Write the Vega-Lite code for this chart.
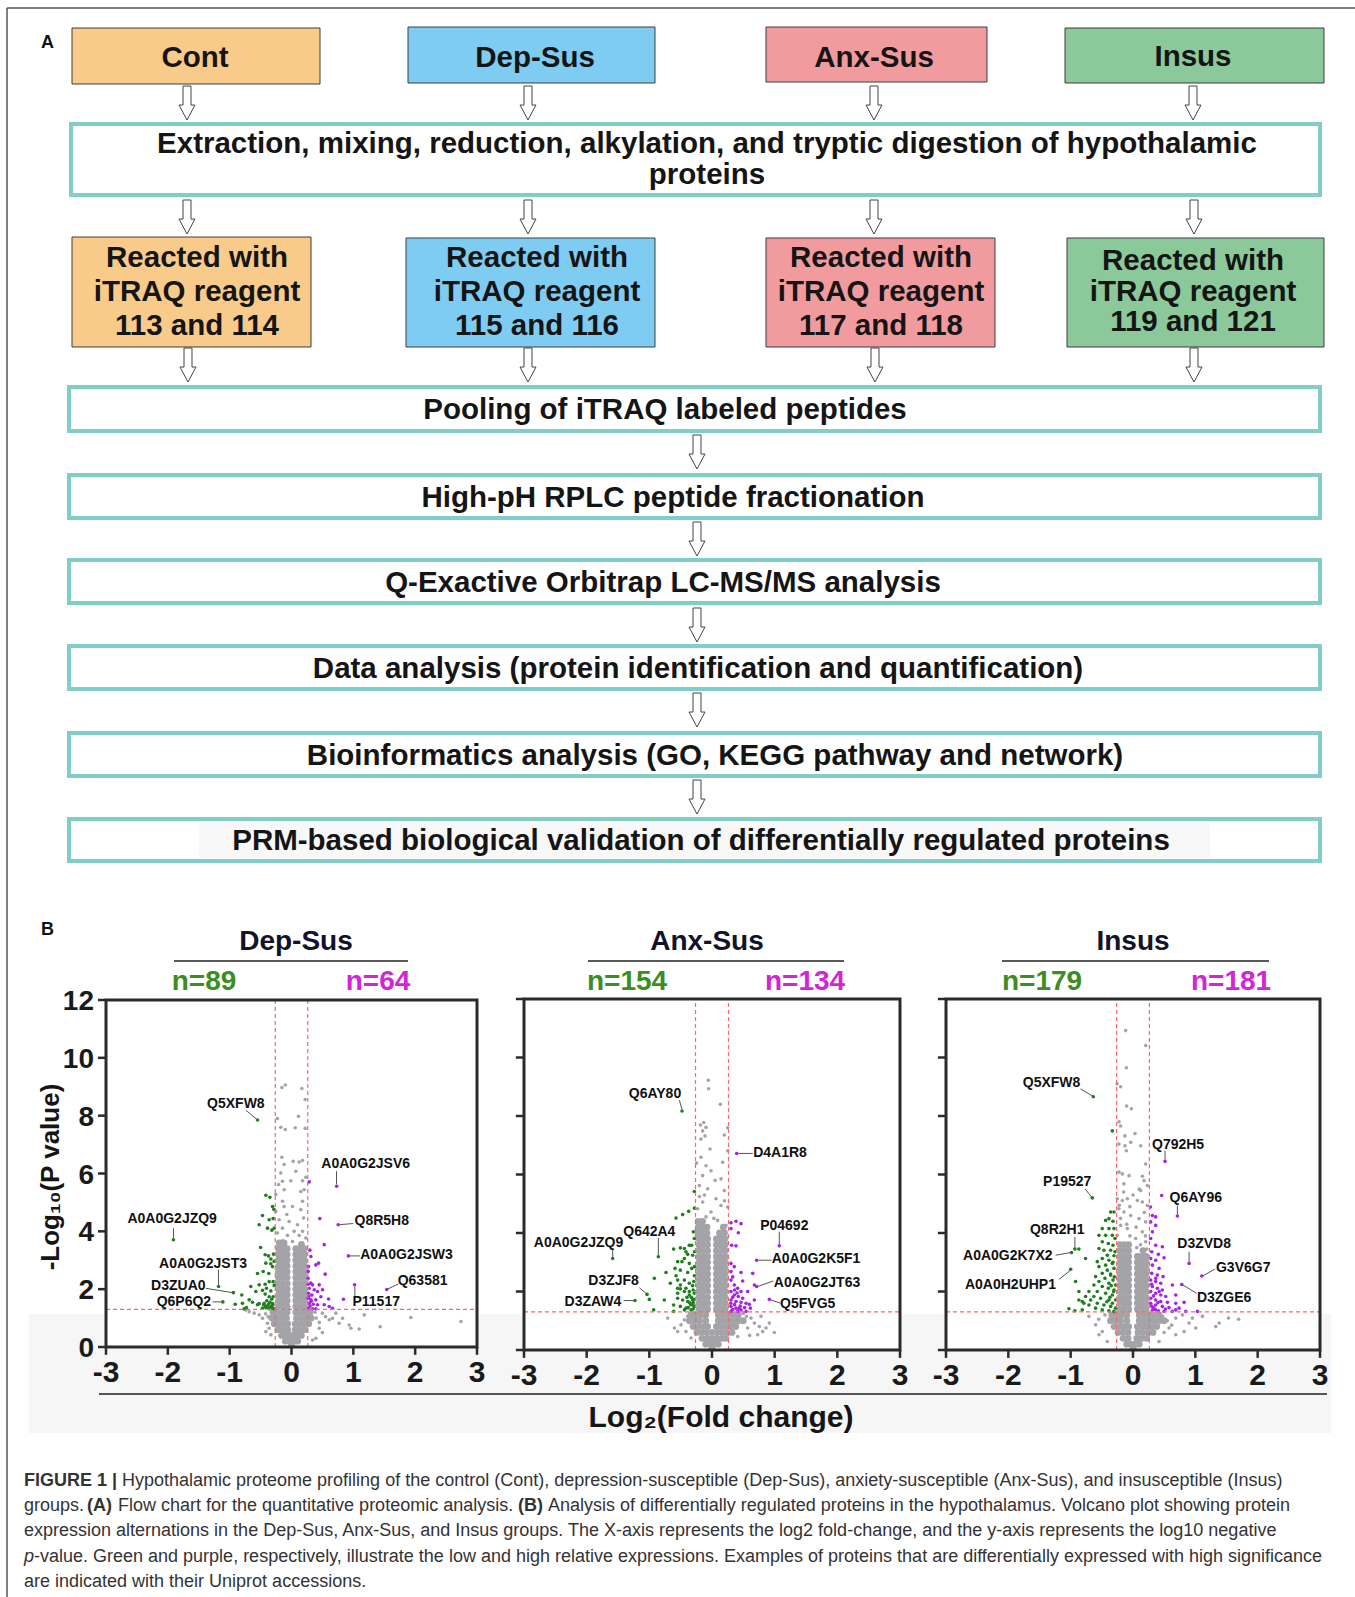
{
"$schema": "https://vega.github.io/schema/vega-lite/v6.json",
"width": 1355, "height": 1597, "padding": 0, "autosize": "none",
"background": "#ffffff",
"config": {"view": {"stroke": null}, "font": "Liberation Sans"},
"datasets": {
"band": [{"x":29,"x2":1331,"y":1314,"y2":1433}],
"frame": [{"x":7,"y":8,"x2":1355,"y2":8},{"x":7,"y":8,"x2":7,"y2":1597}],
"gbox": [{"x":72,"x2":320,"y":28,"y2":84,"g":"Cont"},{"x":408,"x2":655,"y":27,"y2":83,"g":"Dep-Sus"},{"x":766,"x2":987,"y":27,"y2":82,"g":"Anx-Sus"},{"x":1065,"x2":1324,"y":28,"y2":83,"g":"Insus"},{"x":72,"x2":311,"y":237,"y2":347,"g":"Cont"},{"x":406,"x2":655,"y":238,"y2":347,"g":"Dep-Sus"},{"x":766,"x2":995,"y":238,"y2":347,"g":"Anx-Sus"},{"x":1067,"x2":1324,"y":238,"y2":347,"g":"Insus"}],
"tbox": [{"x":71,"x2":1320,"y":124,"y2":195},{"x":69,"x2":1320,"y":387,"y2":431},{"x":69,"x2":1320,"y":475,"y2":518},{"x":69,"x2":1320,"y":560,"y2":603},{"x":69,"x2":1320,"y":646,"y2":689},{"x":69,"x2":1320,"y":733,"y2":776},{"x":69,"x2":1320,"y":819,"y2":861}],
"patch": [{"x":199,"x2":1210,"y":823,"y2":858}],
"arrows": [{"x":187,"y":103},{"x":528,"y":103},{"x":874,"y":103},{"x":1193,"y":103},{"x":187,"y":217},{"x":528,"y":217},{"x":874,"y":217},{"x":1194,"y":217},{"x":188,"y":365},{"x":528,"y":365},{"x":875,"y":365},{"x":1194,"y":365},{"x":697,"y":452},{"x":697,"y":539},{"x":697,"y":625},{"x":697,"y":710},{"x":697,"y":797}],
"ftext": [{"x":195,"y":67,"t":"Cont"},{"x":535,"y":67,"t":"Dep-Sus"},{"x":874,"y":67,"t":"Anx-Sus"},{"x":1193,"y":66,"t":"Insus"},
{"x":707,"y":153,"t":"Extraction, mixing, reduction, alkylation, and tryptic digestion of hypothalamic"},{"x":707,"y":184,"t":"proteins"},
{"x":197,"y":267,"t":"Reacted with"},{"x":197,"y":301,"t":"iTRAQ reagent"},{"x":197,"y":335,"t":"113 and 114"},
{"x":537,"y":267,"t":"Reacted with"},{"x":537,"y":301,"t":"iTRAQ reagent"},{"x":537,"y":335,"t":"115 and 116"},
{"x":881,"y":267,"t":"Reacted with"},{"x":881,"y":301,"t":"iTRAQ reagent"},{"x":881,"y":335,"t":"117 and 118"},
{"x":1193,"y":270,"t":"Reacted with"},{"x":1193,"y":301,"t":"iTRAQ reagent"},{"x":1193,"y":331,"t":"119 and 121"},
{"x":665,"y":419,"t":"Pooling of iTRAQ labeled peptides"},{"x":673,"y":507,"t":"High-pH RPLC peptide fractionation"},{"x":663,"y":592,"t":"Q-Exactive Orbitrap LC-MS/MS analysis"},{"x":698,"y":678,"t":"Data analysis (protein identification and quantification)"},{"x":715,"y":765,"t":"Bioinformatics analysis (GO, KEGG pathway and network)"},{"x":701,"y":850,"t":"PRM-based biological validation of differentially regulated proteins"}],
"letters": [{"x":41,"y":48,"t":"A"},{"x":41,"y":935,"t":"B"}],
"ptitle": [{"x":296,"y":950,"t":"Dep-Sus"},{"x":707,"y":950,"t":"Anx-Sus"},{"x":1133,"y":950,"t":"Insus"}],
"uline": [{"x":174,"x2":408,"y":961,"y2":961},{"x":588,"x2":844,"y":961,"y2":961},{"x":1002,"x2":1269,"y":961,"y2":961},{"x":99,"x2":1327,"y":1394,"y2":1394}],
"ndown": [{"x":204,"y":990,"t":"n=89"},{"x":627,"y":990,"t":"n=154"},{"x":1042,"y":990,"t":"n=179"}],
"nup": [{"x":378,"y":990,"t":"n=64"},{"x":805,"y":990,"t":"n=134"},{"x":1231,"y":990,"t":"n=181"}],
"ytitle": [{"x":51,"y":1177,"t":"-Log₁₀(P value)"}],
"xtitle": [{"x":721,"y":1427,"t":"Log₂(Fold change)"}],
"capR": [{"x":122,"y":1486,"t":"Hypothalamic proteome profiling of the control (Cont), depression-susceptible (Dep-Sus), anxiety-susceptible (Anx-Sus), and insusceptible (Insus)"},{"x":24,"y":1511,"t":"groups."},{"x":118,"y":1511,"t":"Flow chart for the quantitative proteomic analysis."},{"x":548,"y":1511,"t":"Analysis of differentially regulated proteins in the hypothalamus. Volcano plot showing protein"},{"x":24,"y":1536,"t":"expression alternations in the Dep-Sus, Anx-Sus, and Insus groups. The X-axis represents the log2 fold-change, and the y-axis represents the log10 negative"},{"x":34,"y":1562,"t":"-value. Green and purple, respectively, illustrate the low and high relative expressions. Examples of proteins that are differentially expressed with high significance"},{"x":24,"y":1587,"t":"are indicated with their Uniprot accessions."}],
"capB": [{"x":24,"y":1486,"t":"FIGURE 1 |"},{"x":87,"y":1511,"t":"(A)"},{"x":518,"y":1511,"t":"(B)"}],
"capI": [{"x":24,"y":1562,"t":"p"}],
"tx": [{"t":-3,"s":"-3"},{"t":-2,"s":"-2"},{"t":-1,"s":"-1"},{"t":0,"s":"0"},{"t":1,"s":"1"},{"t":2,"s":"2"},{"t":3,"s":"3"}],
"ty": [{"t":0,"s":"0"},{"t":2,"s":"2"},{"t":4,"s":"4"},{"t":6,"s":"6"},{"t":8,"s":"8"},{"t":10,"s":"10"},{"t":12,"s":"12"}],
"p1": [
{"fc":-0.2,"lp":3.6,"g":"k"},{"fc":-0.12,"lp":3.6,"g":"k"},{"fc":0.16,"lp":3.55,"g":"k"},
{"fc":-0.21,"lp":3.4,"g":"k"},{"fc":-0.14,"lp":3.4,"g":"k"},{"fc":-0.07,"lp":3.4,"g":"k"},{"fc":0.07,"lp":3.4,"g":"k"},{"fc":0.14,"lp":3.4,"g":"k"},{"fc":0.21,"lp":3.4,"g":"k"},
{"fc":-0.21,"lp":3.2,"g":"k"},{"fc":-0.14,"lp":3.2,"g":"k"},{"fc":-0.07,"lp":3.2,"g":"k"},{"fc":0.07,"lp":3.2,"g":"k"},{"fc":0.14,"lp":3.2,"g":"k"},{"fc":0.21,"lp":3.2,"g":"k"},
{"fc":-0.21,"lp":3.0,"g":"k"},{"fc":-0.14,"lp":3.0,"g":"k"},{"fc":-0.07,"lp":3.0,"g":"k"},{"fc":0.07,"lp":3.0,"g":"k"},{"fc":0.14,"lp":3.0,"g":"k"},{"fc":0.21,"lp":3.0,"g":"k"},
{"fc":-0.21,"lp":2.8,"g":"k"},{"fc":-0.14,"lp":2.8,"g":"k"},{"fc":-0.07,"lp":2.8,"g":"k"},{"fc":0.07,"lp":2.8,"g":"k"},{"fc":0.14,"lp":2.8,"g":"k"},{"fc":0.21,"lp":2.8,"g":"k"},
{"fc":-0.21,"lp":2.6,"g":"k"},{"fc":-0.14,"lp":2.6,"g":"k"},{"fc":-0.07,"lp":2.6,"g":"k"},{"fc":0.07,"lp":2.6,"g":"k"},{"fc":0.14,"lp":2.6,"g":"k"},{"fc":0.21,"lp":2.6,"g":"k"},
{"fc":-0.21,"lp":2.4,"g":"k"},{"fc":-0.14,"lp":2.4,"g":"k"},{"fc":-0.07,"lp":2.4,"g":"k"},{"fc":0.07,"lp":2.4,"g":"k"},{"fc":0.14,"lp":2.4,"g":"k"},{"fc":0.21,"lp":2.4,"g":"k"},
{"fc":-0.21,"lp":2.2,"g":"k"},{"fc":-0.14,"lp":2.2,"g":"k"},{"fc":-0.07,"lp":2.2,"g":"k"},{"fc":0.07,"lp":2.2,"g":"k"},{"fc":0.14,"lp":2.2,"g":"k"},{"fc":0.21,"lp":2.2,"g":"k"},
{"fc":-0.21,"lp":2.0,"g":"k"},{"fc":-0.14,"lp":2.0,"g":"k"},{"fc":-0.07,"lp":2.0,"g":"k"},{"fc":0.07,"lp":2.0,"g":"k"},{"fc":0.14,"lp":2.0,"g":"k"},{"fc":0.21,"lp":2.0,"g":"k"},
{"fc":-0.21,"lp":1.8,"g":"k"},{"fc":-0.14,"lp":1.8,"g":"k"},{"fc":-0.07,"lp":1.8,"g":"k"},{"fc":0.07,"lp":1.8,"g":"k"},{"fc":0.14,"lp":1.8,"g":"k"},{"fc":0.21,"lp":1.8,"g":"k"},
{"fc":-0.21,"lp":1.6,"g":"k"},{"fc":-0.14,"lp":1.6,"g":"k"},{"fc":-0.07,"lp":1.6,"g":"k"},{"fc":0.07,"lp":1.6,"g":"k"},{"fc":0.14,"lp":1.6,"g":"k"},{"fc":0.21,"lp":1.6,"g":"k"},
{"fc":-0.21,"lp":1.4,"g":"k"},{"fc":-0.14,"lp":1.4,"g":"k"},{"fc":-0.07,"lp":1.4,"g":"k"},{"fc":0.07,"lp":1.4,"g":"k"},{"fc":0.14,"lp":1.4,"g":"k"},{"fc":0.21,"lp":1.4,"g":"k"},
{"fc":-0.3,"lp":1.2,"g":"k"},{"fc":-0.22,"lp":1.2,"g":"k"},{"fc":-0.14,"lp":1.2,"g":"k"},{"fc":-0.07,"lp":1.2,"g":"k"},{"fc":0.07,"lp":1.2,"g":"k"},{"fc":0.14,"lp":1.2,"g":"k"},{"fc":0.22,"lp":1.2,"g":"k"},{"fc":0.3,"lp":1.2,"g":"k"},
{"fc":-0.32,"lp":1.0,"g":"k"},{"fc":-0.24,"lp":1.0,"g":"k"},{"fc":-0.16,"lp":1.0,"g":"k"},{"fc":-0.08,"lp":1.0,"g":"k"},{"fc":0.08,"lp":1.0,"g":"k"},{"fc":0.16,"lp":1.0,"g":"k"},{"fc":0.24,"lp":1.0,"g":"k"},{"fc":0.32,"lp":1.0,"g":"k"},
{"fc":-0.28,"lp":0.8,"g":"k"},{"fc":-0.2,"lp":0.8,"g":"k"},{"fc":-0.12,"lp":0.8,"g":"k"},{"fc":-0.06,"lp":0.8,"g":"k"},{"fc":0.06,"lp":0.8,"g":"k"},{"fc":0.12,"lp":0.8,"g":"k"},{"fc":0.2,"lp":0.8,"g":"k"},{"fc":0.28,"lp":0.8,"g":"k"},
{"fc":-0.22,"lp":0.6,"g":"k"},{"fc":-0.14,"lp":0.6,"g":"k"},{"fc":-0.06,"lp":0.6,"g":"k"},{"fc":0.06,"lp":0.6,"g":"k"},{"fc":0.14,"lp":0.6,"g":"k"},{"fc":0.22,"lp":0.6,"g":"k"},
{"fc":-0.16,"lp":0.4,"g":"k"},{"fc":-0.08,"lp":0.4,"g":"k"},{"fc":0,"lp":0.4,"g":"k"},{"fc":0.08,"lp":0.4,"g":"k"},{"fc":0.16,"lp":0.4,"g":"k"},
{"fc":-0.1,"lp":0.2,"g":"k"},{"fc":-0.03,"lp":0.2,"g":"k"},{"fc":0.04,"lp":0.2,"g":"k"},{"fc":0.1,"lp":0.2,"g":"k"},{"fc":0,"lp":0.06,"g":"k"},
{"fc":-0.1,"lp":9.06,"g":"n"},{"fc":-0.156,"lp":8.97,"g":"n"},{"fc":0.167,"lp":8.94,"g":"n"},{"fc":0.22,"lp":8.56,"g":"n"},{"fc":-0.227,"lp":7.9,"g":"n"},{"fc":0.113,"lp":7.98,"g":"n"},{"fc":-0.173,"lp":7.6,"g":"n"},{"fc":-0.1,"lp":7.52,"g":"n"},{"fc":0.06,"lp":7.58,"g":"n"},{"fc":0.22,"lp":7.56,"g":"n"},{"fc":-0.156,"lp":6.56,"g":"n"},{"fc":0.027,"lp":6.42,"g":"n"},{"fc":0.124,"lp":6.4,"g":"n"},{"fc":0.178,"lp":6.45,"g":"n"},{"fc":-0.119,"lp":6.31,"g":"n"},{"fc":-0.173,"lp":6.02,"g":"n"},{"fc":0.07,"lp":6.08,"g":"n"},{"fc":0.178,"lp":5.75,"g":"n"},{"fc":0.232,"lp":5.87,"g":"n"},{"fc":-0.146,"lp":5.73,"g":"n"},{"fc":-0.21,"lp":5.62,"g":"n"},{"fc":-0.01,"lp":5.75,"g":"n"},{"fc":-0.119,"lp":5.44,"g":"n"},{"fc":0.205,"lp":5.44,"g":"n"},{"fc":0.151,"lp":5.38,"g":"n"},{"fc":-0.254,"lp":5.27,"g":"n"},{"fc":-0.146,"lp":5.04,"g":"n"},{"fc":0.178,"lp":5.04,"g":"n"},{"fc":-0.119,"lp":4.86,"g":"n"},{"fc":0.016,"lp":4.86,"g":"n"},{"fc":0.151,"lp":4.75,"g":"n"},{"fc":-0.254,"lp":4.69,"g":"n"},{"fc":-0.076,"lp":4.58,"g":"n"},{"fc":0.194,"lp":4.46,"g":"n"},{"fc":-0.2,"lp":4.4,"g":"n"},{"fc":-0.038,"lp":4.34,"g":"n"},{"fc":0.097,"lp":4.23,"g":"n"},{"fc":-0.146,"lp":4.11,"g":"n"},{"fc":0.043,"lp":4.0,"g":"n"},{"fc":0.178,"lp":4.0,"g":"n"},{"fc":-0.227,"lp":3.94,"g":"n"},{"fc":-0.065,"lp":3.86,"g":"n"},{"fc":0.124,"lp":3.86,"g":"n"},{"fc":0.232,"lp":3.77,"g":"n"},{"fc":-0.146,"lp":3.67,"g":"n"},{"fc":0.016,"lp":3.65,"g":"n"},
{"fc":0.5,"lp":1.17,"g":"n"},{"fc":0.663,"lp":0.99,"g":"n"},{"fc":0.77,"lp":0.82,"g":"n"},{"fc":0.933,"lp":0.76,"g":"n"},{"fc":1.095,"lp":0.62,"g":"n"},{"fc":1.176,"lp":1.11,"g":"n"},{"fc":1.435,"lp":0.7,"g":"n"},{"fc":1.93,"lp":1.02,"g":"n"},{"fc":2.74,"lp":0.88,"g":"n"},{"fc":0.394,"lp":0.3,"g":"n"},{"fc":0.34,"lp":0.24,"g":"n"},{"fc":0.717,"lp":1.17,"g":"n"},{"fc":0.96,"lp":0.65,"g":"n"},{"fc":0.448,"lp":0.65,"g":"n"},{"fc":0.61,"lp":0.94,"g":"n"},{"fc":0.825,"lp":0.99,"g":"n"},{"fc":0.4,"lp":1.0,"g":"n"},{"fc":0.45,"lp":0.85,"g":"n"},{"fc":0.38,"lp":1.2,"g":"n"},{"fc":0.55,"lp":1.05,"g":"n"},{"fc":0.5,"lp":0.5,"g":"n"},
{"fc":-0.685,"lp":1.22,"g":"n"},{"fc":-0.739,"lp":1.28,"g":"n"},{"fc":-0.604,"lp":1.17,"g":"n"},{"fc":-0.523,"lp":1.11,"g":"n"},{"fc":-0.469,"lp":0.99,"g":"n"},{"fc":-0.388,"lp":0.82,"g":"n"},{"fc":-0.361,"lp":0.65,"g":"n"},{"fc":-0.415,"lp":0.53,"g":"n"},{"fc":-0.334,"lp":0.42,"g":"n"},{"fc":-0.42,"lp":1.15,"g":"n"},{"fc":-0.38,"lp":1.05,"g":"n"},
{"fc":-0.415,"lp":5.25,"g":"d"},{"fc":-0.35,"lp":5.18,"g":"d"},{"fc":-0.307,"lp":4.86,"g":"d"},{"fc":-0.286,"lp":4.76,"g":"d"},{"fc":-0.469,"lp":4.55,"g":"d"},{"fc":-0.523,"lp":4.23,"g":"d"},{"fc":-0.361,"lp":4.4,"g":"d"},{"fc":-0.297,"lp":4.44,"g":"d"},{"fc":-0.28,"lp":4.11,"g":"d"},{"fc":-0.388,"lp":4.11,"g":"d"},{"fc":-0.318,"lp":4.04,"g":"d"},{"fc":-0.5,"lp":3.44,"g":"d"},{"fc":-0.426,"lp":3.19,"g":"d"},{"fc":-0.372,"lp":3.15,"g":"d"},{"fc":-0.291,"lp":3.21,"g":"d"},{"fc":-0.334,"lp":3.04,"g":"d"},{"fc":-0.415,"lp":2.9,"g":"d"},{"fc":-0.334,"lp":2.88,"g":"d"},{"fc":-0.28,"lp":2.96,"g":"d"},{"fc":-0.55,"lp":2.54,"g":"d"},{"fc":-0.458,"lp":2.61,"g":"d"},{"fc":-0.367,"lp":2.54,"g":"d"},{"fc":-0.307,"lp":2.78,"g":"d"},{"fc":-0.523,"lp":2.15,"g":"d"},{"fc":-0.426,"lp":2.17,"g":"d"},{"fc":-0.361,"lp":2.26,"g":"d"},{"fc":-0.297,"lp":2.26,"g":"d"},{"fc":-0.28,"lp":2.13,"g":"d"},{"fc":-0.804,"lp":1.8,"g":"d"},{"fc":-0.658,"lp":2.09,"g":"d"},{"fc":-0.577,"lp":1.92,"g":"d"},{"fc":-0.469,"lp":1.96,"g":"d"},{"fc":-0.405,"lp":2.03,"g":"d"},{"fc":-0.334,"lp":1.94,"g":"d"},{"fc":-0.426,"lp":1.83,"g":"d"},{"fc":-0.361,"lp":1.74,"g":"d"},{"fc":-0.297,"lp":1.74,"g":"d"},{"fc":-0.685,"lp":1.63,"g":"d"},{"fc":-0.793,"lp":1.51,"g":"d"},{"fc":-0.631,"lp":1.55,"g":"d"},{"fc":-0.523,"lp":1.5,"g":"d"},{"fc":-0.442,"lp":1.51,"g":"d"},{"fc":-0.372,"lp":1.48,"g":"d"},{"fc":-0.307,"lp":1.5,"g":"d"},{"fc":-0.728,"lp":1.36,"g":"d"},{"fc":-0.415,"lp":1.36,"g":"d"},{"fc":-0.361,"lp":1.32,"g":"d"},{"fc":-0.307,"lp":1.34,"g":"d"},{"fc":-0.28,"lp":1.32,"g":"d"},{"fc":-0.766,"lp":1.32,"g":"d"},{"fc":-0.55,"lp":1.46,"g":"d"},{"fc":-0.469,"lp":1.34,"g":"d"},{"fc":-0.33,"lp":1.4,"g":"d"},{"fc":-0.38,"lp":1.38,"g":"d"},{"fc":-0.42,"lp":1.42,"g":"d"},{"fc":-0.3,"lp":1.45,"g":"d"},{"fc":-0.35,"lp":1.55,"g":"d"},{"fc":-0.4,"lp":1.6,"g":"d"},{"fc":-0.32,"lp":1.65,"g":"d"},{"fc":-0.45,"lp":1.45,"g":"d"},
{"fc":-0.55,"lp":7.85,"g":"d"},{"fc":-1.91,"lp":3.71,"g":"d"},{"fc":-1.18,"lp":2.09,"g":"d"},{"fc":-0.94,"lp":1.88,"g":"d"},{"fc":-1.11,"lp":1.56,"g":"d"},{"fc":-0.91,"lp":1.48,"g":"d"},
{"fc":0.286,"lp":5.71,"g":"u"},{"fc":0.458,"lp":4.44,"g":"u"},{"fc":0.529,"lp":3.54,"g":"u"},{"fc":0.297,"lp":3.35,"g":"u"},{"fc":0.437,"lp":2.9,"g":"u"},{"fc":0.394,"lp":2.84,"g":"u"},{"fc":0.313,"lp":3.13,"g":"u"},{"fc":0.275,"lp":2.78,"g":"u"},{"fc":0.545,"lp":2.52,"g":"u"},{"fc":0.27,"lp":2.17,"g":"u"},{"fc":0.313,"lp":2.21,"g":"u"},{"fc":0.34,"lp":2.15,"g":"u"},{"fc":0.448,"lp":2.15,"g":"u"},{"fc":0.286,"lp":2.03,"g":"u"},{"fc":0.367,"lp":1.98,"g":"u"},{"fc":0.421,"lp":1.92,"g":"u"},{"fc":0.275,"lp":1.86,"g":"u"},{"fc":0.329,"lp":1.8,"g":"u"},{"fc":0.502,"lp":1.98,"g":"u"},{"fc":0.27,"lp":1.69,"g":"u"},{"fc":0.313,"lp":1.63,"g":"u"},{"fc":0.394,"lp":1.63,"g":"u"},{"fc":0.475,"lp":1.74,"g":"u"},{"fc":0.599,"lp":1.66,"g":"u"},{"fc":0.286,"lp":1.51,"g":"u"},{"fc":0.351,"lp":1.48,"g":"u"},{"fc":0.421,"lp":1.46,"g":"u"},{"fc":0.529,"lp":1.46,"g":"u"},{"fc":0.663,"lp":1.34,"g":"u"},{"fc":0.61,"lp":1.4,"g":"u"},{"fc":0.275,"lp":1.34,"g":"u"},{"fc":0.34,"lp":1.32,"g":"u"},{"fc":0.394,"lp":1.32,"g":"u"},{"fc":0.27,"lp":2.38,"g":"u"},{"fc":0.27,"lp":2.61,"g":"u"},{"fc":0.3,"lp":1.42,"g":"u"},{"fc":0.32,"lp":1.58,"g":"u"},{"fc":0.28,"lp":1.75,"g":"u"},
{"fc":0.73,"lp":5.56,"g":"u"},{"fc":0.755,"lp":4.23,"g":"u"},{"fc":0.92,"lp":3.15,"g":"u"},{"fc":1.54,"lp":1.99,"g":"u"},{"fc":1.02,"lp":2.15,"g":"u"},{"fc":0.84,"lp":1.65,"g":"u"}
],
"p2": [
{"fc":-0.22,"lp":4.4,"g":"k"},{"fc":-0.15,"lp":4.4,"g":"k"},
{"fc":-0.22,"lp":4.2,"g":"k"},{"fc":-0.15,"lp":4.2,"g":"k"},{"fc":-0.08,"lp":4.2,"g":"k"},{"fc":0.18,"lp":4.2,"g":"k"},
{"fc":-0.22,"lp":4.0,"g":"k"},{"fc":-0.15,"lp":4.0,"g":"k"},{"fc":-0.08,"lp":4.0,"g":"k"},{"fc":0.12,"lp":4.0,"g":"k"},{"fc":0.2,"lp":4.0,"g":"k"},
{"fc":-0.21,"lp":3.8,"g":"k"},{"fc":-0.14,"lp":3.8,"g":"k"},{"fc":-0.07,"lp":3.8,"g":"k"},{"fc":0.07,"lp":3.8,"g":"k"},{"fc":0.14,"lp":3.8,"g":"k"},{"fc":0.21,"lp":3.8,"g":"k"},
{"fc":-0.21,"lp":3.6,"g":"k"},{"fc":-0.14,"lp":3.6,"g":"k"},{"fc":-0.07,"lp":3.6,"g":"k"},{"fc":0.07,"lp":3.6,"g":"k"},{"fc":0.14,"lp":3.6,"g":"k"},{"fc":0.21,"lp":3.6,"g":"k"},
{"fc":-0.21,"lp":3.4,"g":"k"},{"fc":-0.14,"lp":3.4,"g":"k"},{"fc":-0.07,"lp":3.4,"g":"k"},{"fc":0.07,"lp":3.4,"g":"k"},{"fc":0.14,"lp":3.4,"g":"k"},{"fc":0.21,"lp":3.4,"g":"k"},
{"fc":-0.21,"lp":3.2,"g":"k"},{"fc":-0.14,"lp":3.2,"g":"k"},{"fc":-0.07,"lp":3.2,"g":"k"},{"fc":0.07,"lp":3.2,"g":"k"},{"fc":0.14,"lp":3.2,"g":"k"},{"fc":0.21,"lp":3.2,"g":"k"},
{"fc":-0.21,"lp":3.0,"g":"k"},{"fc":-0.14,"lp":3.0,"g":"k"},{"fc":-0.07,"lp":3.0,"g":"k"},{"fc":0.07,"lp":3.0,"g":"k"},{"fc":0.14,"lp":3.0,"g":"k"},{"fc":0.21,"lp":3.0,"g":"k"},
{"fc":-0.21,"lp":2.8,"g":"k"},{"fc":-0.14,"lp":2.8,"g":"k"},{"fc":-0.07,"lp":2.8,"g":"k"},{"fc":0.07,"lp":2.8,"g":"k"},{"fc":0.14,"lp":2.8,"g":"k"},{"fc":0.21,"lp":2.8,"g":"k"},
{"fc":-0.21,"lp":2.6,"g":"k"},{"fc":-0.14,"lp":2.6,"g":"k"},{"fc":-0.07,"lp":2.6,"g":"k"},{"fc":0.07,"lp":2.6,"g":"k"},{"fc":0.14,"lp":2.6,"g":"k"},{"fc":0.21,"lp":2.6,"g":"k"},
{"fc":-0.21,"lp":2.4,"g":"k"},{"fc":-0.14,"lp":2.4,"g":"k"},{"fc":-0.07,"lp":2.4,"g":"k"},{"fc":0.07,"lp":2.4,"g":"k"},{"fc":0.14,"lp":2.4,"g":"k"},{"fc":0.21,"lp":2.4,"g":"k"},
{"fc":-0.21,"lp":2.2,"g":"k"},{"fc":-0.14,"lp":2.2,"g":"k"},{"fc":-0.07,"lp":2.2,"g":"k"},{"fc":0.07,"lp":2.2,"g":"k"},{"fc":0.14,"lp":2.2,"g":"k"},{"fc":0.21,"lp":2.2,"g":"k"},
{"fc":-0.21,"lp":2.0,"g":"k"},{"fc":-0.14,"lp":2.0,"g":"k"},{"fc":-0.07,"lp":2.0,"g":"k"},{"fc":0.07,"lp":2.0,"g":"k"},{"fc":0.14,"lp":2.0,"g":"k"},{"fc":0.21,"lp":2.0,"g":"k"},
{"fc":-0.21,"lp":1.8,"g":"k"},{"fc":-0.14,"lp":1.8,"g":"k"},{"fc":-0.07,"lp":1.8,"g":"k"},{"fc":0.07,"lp":1.8,"g":"k"},{"fc":0.14,"lp":1.8,"g":"k"},{"fc":0.21,"lp":1.8,"g":"k"},
{"fc":-0.21,"lp":1.6,"g":"k"},{"fc":-0.14,"lp":1.6,"g":"k"},{"fc":-0.07,"lp":1.6,"g":"k"},{"fc":0.07,"lp":1.6,"g":"k"},{"fc":0.14,"lp":1.6,"g":"k"},{"fc":0.21,"lp":1.6,"g":"k"},
{"fc":-0.21,"lp":1.4,"g":"k"},{"fc":-0.14,"lp":1.4,"g":"k"},{"fc":-0.07,"lp":1.4,"g":"k"},{"fc":0.07,"lp":1.4,"g":"k"},{"fc":0.14,"lp":1.4,"g":"k"},{"fc":0.21,"lp":1.4,"g":"k"},
{"fc":-0.34,"lp":1.2,"g":"k"},{"fc":-0.26,"lp":1.2,"g":"k"},{"fc":-0.18,"lp":1.2,"g":"k"},{"fc":-0.1,"lp":1.2,"g":"k"},{"fc":0.1,"lp":1.2,"g":"k"},{"fc":0.18,"lp":1.2,"g":"k"},{"fc":0.26,"lp":1.2,"g":"k"},{"fc":0.34,"lp":1.2,"g":"k"},{"fc":0.42,"lp":1.2,"g":"k"},
{"fc":-0.36,"lp":1.0,"g":"k"},{"fc":-0.28,"lp":1.0,"g":"k"},{"fc":-0.2,"lp":1.0,"g":"k"},{"fc":-0.1,"lp":1.0,"g":"k"},{"fc":0.1,"lp":1.0,"g":"k"},{"fc":0.18,"lp":1.0,"g":"k"},{"fc":0.26,"lp":1.0,"g":"k"},{"fc":0.34,"lp":1.0,"g":"k"},{"fc":0.42,"lp":1.0,"g":"k"},{"fc":0.5,"lp":1.0,"g":"k"},
{"fc":-0.3,"lp":0.8,"g":"k"},{"fc":-0.22,"lp":0.8,"g":"k"},{"fc":-0.14,"lp":0.8,"g":"k"},{"fc":-0.07,"lp":0.8,"g":"k"},{"fc":0.07,"lp":0.8,"g":"k"},{"fc":0.14,"lp":0.8,"g":"k"},{"fc":0.22,"lp":0.8,"g":"k"},{"fc":0.3,"lp":0.8,"g":"k"},{"fc":0.38,"lp":0.8,"g":"k"},
{"fc":-0.24,"lp":0.6,"g":"k"},{"fc":-0.16,"lp":0.6,"g":"k"},{"fc":-0.08,"lp":0.6,"g":"k"},{"fc":0,"lp":0.6,"g":"k"},{"fc":0.08,"lp":0.6,"g":"k"},{"fc":0.16,"lp":0.6,"g":"k"},{"fc":0.24,"lp":0.6,"g":"k"},{"fc":0.32,"lp":0.6,"g":"k"},
{"fc":-0.16,"lp":0.4,"g":"k"},{"fc":-0.08,"lp":0.4,"g":"k"},{"fc":0,"lp":0.4,"g":"k"},{"fc":0.08,"lp":0.4,"g":"k"},{"fc":0.16,"lp":0.4,"g":"k"},{"fc":0.22,"lp":0.4,"g":"k"},
{"fc":-0.1,"lp":0.2,"g":"k"},{"fc":-0.03,"lp":0.2,"g":"k"},{"fc":0.04,"lp":0.2,"g":"k"},{"fc":0.1,"lp":0.2,"g":"k"},{"fc":0,"lp":0.06,"g":"k"},
{"fc":-0.059,"lp":9.22,"g":"n"},{"fc":-0.053,"lp":8.93,"g":"n"},{"fc":0.133,"lp":8.4,"g":"n"},{"fc":-0.133,"lp":7.78,"g":"n"},{"fc":-0.186,"lp":7.69,"g":"n"},{"fc":-0.096,"lp":7.61,"g":"n"},{"fc":-0.149,"lp":7.49,"g":"n"},{"fc":-0.112,"lp":7.32,"g":"n"},{"fc":-0.176,"lp":7.21,"g":"n"},{"fc":0.25,"lp":7.6,"g":"n"},{"fc":0.197,"lp":7.35,"g":"n"},{"fc":-0.032,"lp":6.87,"g":"n"},{"fc":-0.245,"lp":6.39,"g":"n"},{"fc":0.17,"lp":6.42,"g":"n"},{"fc":0.25,"lp":6.81,"g":"n"},{"fc":-0.176,"lp":6.59,"g":"n"},{"fc":-0.096,"lp":6.3,"g":"n"},{"fc":-0.016,"lp":6.13,"g":"n"},{"fc":-0.149,"lp":5.96,"g":"n"},{"fc":0.144,"lp":5.85,"g":"n"},{"fc":-0.202,"lp":5.62,"g":"n"},{"fc":-0.069,"lp":5.51,"g":"n"},{"fc":0.197,"lp":5.45,"g":"n"},{"fc":0.064,"lp":5.17,"g":"n"},{"fc":-0.149,"lp":5.06,"g":"n"},{"fc":0.144,"lp":4.94,"g":"n"},{"fc":0.25,"lp":4.89,"g":"n"},{"fc":-0.229,"lp":4.83,"g":"n"},{"fc":-0.016,"lp":4.72,"g":"n"},{"fc":-0.096,"lp":4.55,"g":"n"},{"fc":0.09,"lp":4.43,"g":"n"},{"fc":0.223,"lp":4.26,"g":"n"},{"fc":-0.176,"lp":4.15,"g":"n"},{"fc":0.144,"lp":4.04,"g":"n"},{"fc":-0.069,"lp":4.04,"g":"n"},{"fc":0.03,"lp":4.5,"g":"n"},{"fc":-0.12,"lp":5.3,"g":"n"},{"fc":0.2,"lp":5.1,"g":"n"},{"fc":0.05,"lp":5.8,"g":"n"},{"fc":-0.2,"lp":5.25,"g":"n"},
{"fc":-0.707,"lp":1.09,"g":"n"},{"fc":-0.6,"lp":0.75,"g":"n"},{"fc":-0.548,"lp":0.63,"g":"n"},{"fc":-0.495,"lp":0.86,"g":"n"},{"fc":-0.388,"lp":1.15,"g":"n"},{"fc":-0.415,"lp":0.63,"g":"n"},{"fc":-0.335,"lp":0.41,"g":"n"},{"fc":-0.44,"lp":1.03,"g":"n"},
{"fc":0.622,"lp":1.09,"g":"n"},{"fc":0.676,"lp":0.92,"g":"n"},{"fc":0.755,"lp":0.8,"g":"n"},{"fc":0.809,"lp":0.63,"g":"n"},{"fc":0.862,"lp":0.75,"g":"n"},{"fc":0.995,"lp":0.6,"g":"n"},{"fc":0.729,"lp":0.52,"g":"n"},{"fc":0.569,"lp":0.75,"g":"n"},{"fc":0.41,"lp":0.46,"g":"n"},{"fc":0.782,"lp":1.15,"g":"n"},{"fc":0.915,"lp":0.92,"g":"n"},{"fc":0.55,"lp":1.15,"g":"n"},{"fc":0.48,"lp":0.95,"g":"n"},{"fc":0.6,"lp":0.5,"g":"n"},{"fc":0.5,"lp":1.25,"g":"n"},
{"fc":-0.282,"lp":5.42,"g":"d"},{"fc":-0.372,"lp":4.74,"g":"d"},{"fc":-0.468,"lp":4.63,"g":"d"},{"fc":-0.574,"lp":4.51,"g":"d"},{"fc":-0.28,"lp":4.85,"g":"d"},{"fc":-0.298,"lp":4.04,"g":"d"},{"fc":-0.362,"lp":3.58,"g":"d"},{"fc":-0.441,"lp":3.47,"g":"d"},{"fc":-0.505,"lp":3.49,"g":"d"},{"fc":-0.612,"lp":3.45,"g":"d"},{"fc":-0.282,"lp":3.81,"g":"d"},{"fc":-0.309,"lp":3.24,"g":"d"},{"fc":-0.388,"lp":3.27,"g":"d"},{"fc":-0.441,"lp":3.13,"g":"d"},{"fc":-0.479,"lp":3.02,"g":"d"},{"fc":-0.548,"lp":3.02,"g":"d"},{"fc":-0.362,"lp":2.96,"g":"d"},{"fc":-0.324,"lp":2.79,"g":"d"},{"fc":-0.282,"lp":2.54,"g":"d"},{"fc":-0.388,"lp":2.65,"g":"d"},{"fc":-0.441,"lp":2.39,"g":"d"},{"fc":-0.548,"lp":2.39,"g":"d"},{"fc":-0.362,"lp":2.28,"g":"d"},{"fc":-0.309,"lp":2.2,"g":"d"},{"fc":-0.505,"lp":2.09,"g":"d"},{"fc":-0.441,"lp":2.0,"g":"d"},{"fc":-0.548,"lp":1.94,"g":"d"},{"fc":-0.362,"lp":2.0,"g":"d"},{"fc":-0.282,"lp":1.94,"g":"d"},{"fc":-0.548,"lp":1.77,"g":"d"},{"fc":-0.468,"lp":1.71,"g":"d"},{"fc":-0.388,"lp":1.66,"g":"d"},{"fc":-0.309,"lp":1.71,"g":"d"},{"fc":-0.612,"lp":1.54,"g":"d"},{"fc":-0.505,"lp":1.49,"g":"d"},{"fc":-0.415,"lp":1.43,"g":"d"},{"fc":-0.334,"lp":1.37,"g":"d"},{"fc":-0.282,"lp":1.49,"g":"d"},{"fc":-0.441,"lp":1.37,"g":"d"},{"fc":-0.734,"lp":2.65,"g":"d"},{"fc":-0.92,"lp":2.45,"g":"d"},{"fc":-0.665,"lp":2.28,"g":"d"},{"fc":-0.574,"lp":2.54,"g":"d"},{"fc":-0.761,"lp":1.71,"g":"d"},{"fc":-0.931,"lp":1.37,"g":"d"},{"fc":-0.612,"lp":1.32,"g":"d"},{"fc":-1.0,"lp":1.73,"g":"d"},{"fc":-0.28,"lp":3.36,"g":"d"},{"fc":-0.28,"lp":2.85,"g":"d"},{"fc":-0.29,"lp":2.34,"g":"d"},{"fc":-0.29,"lp":1.73,"g":"d"},{"fc":-0.309,"lp":1.54,"g":"d"},{"fc":-0.362,"lp":1.88,"g":"d"},{"fc":-0.415,"lp":2.11,"g":"d"},{"fc":-0.505,"lp":2.22,"g":"d"},{"fc":-0.548,"lp":2.11,"g":"d"},{"fc":-0.59,"lp":2.79,"g":"d"},{"fc":-0.505,"lp":2.73,"g":"d"},{"fc":-0.415,"lp":3.36,"g":"d"},{"fc":-0.324,"lp":3.58,"g":"d"},{"fc":-0.3,"lp":1.4,"g":"d"},{"fc":-0.34,"lp":1.55,"g":"d"},{"fc":-0.38,"lp":1.45,"g":"d"},{"fc":-0.33,"lp":1.8,"g":"d"},{"fc":-0.3,"lp":2.05,"g":"d"},{"fc":-0.36,"lp":1.62,"g":"d"},{"fc":-0.4,"lp":1.8,"g":"d"},{"fc":-0.3,"lp":1.62,"g":"d"},
{"fc":-0.479,"lp":8.17,"g":"d"},{"fc":-1.585,"lp":3.13,"g":"d"},{"fc":-0.856,"lp":3.19,"g":"d"},{"fc":-1.037,"lp":1.9,"g":"d"},{"fc":-1.229,"lp":1.69,"g":"d"},
{"fc":0.303,"lp":4.35,"g":"u"},{"fc":0.383,"lp":4.4,"g":"u"},{"fc":0.463,"lp":4.32,"g":"u"},{"fc":0.303,"lp":4.15,"g":"u"},{"fc":0.42,"lp":4.01,"g":"u"},{"fc":0.314,"lp":3.58,"g":"u"},{"fc":0.383,"lp":3.56,"g":"u"},{"fc":0.303,"lp":2.96,"g":"u"},{"fc":0.356,"lp":2.85,"g":"u"},{"fc":0.303,"lp":2.68,"g":"u"},{"fc":0.649,"lp":2.62,"g":"u"},{"fc":0.463,"lp":2.65,"g":"u"},{"fc":0.303,"lp":2.39,"g":"u"},{"fc":0.356,"lp":2.22,"g":"u"},{"fc":0.41,"lp":2.11,"g":"u"},{"fc":0.463,"lp":2.0,"g":"u"},{"fc":0.569,"lp":2.0,"g":"u"},{"fc":0.303,"lp":2.0,"g":"u"},{"fc":0.356,"lp":1.88,"g":"u"},{"fc":0.42,"lp":1.83,"g":"u"},{"fc":0.489,"lp":1.77,"g":"u"},{"fc":0.303,"lp":1.71,"g":"u"},{"fc":0.383,"lp":1.66,"g":"u"},{"fc":0.463,"lp":1.63,"g":"u"},{"fc":0.543,"lp":1.6,"g":"u"},{"fc":0.596,"lp":1.56,"g":"u"},{"fc":0.303,"lp":1.49,"g":"u"},{"fc":0.383,"lp":1.43,"g":"u"},{"fc":0.463,"lp":1.37,"g":"u"},{"fc":0.543,"lp":1.32,"g":"u"},{"fc":0.676,"lp":2.22,"g":"u"},{"fc":0.676,"lp":1.71,"g":"u"},{"fc":0.612,"lp":1.43,"g":"u"},{"fc":0.303,"lp":1.32,"g":"u"},{"fc":0.41,"lp":1.32,"g":"u"},{"fc":0.489,"lp":2.36,"g":"u"},{"fc":0.33,"lp":2.5,"g":"u"},{"fc":0.36,"lp":2.05,"g":"u"},{"fc":0.33,"lp":1.8,"g":"u"},{"fc":0.36,"lp":1.55,"g":"u"},{"fc":0.3,"lp":1.6,"g":"u"},{"fc":0.45,"lp":1.5,"g":"u"},{"fc":0.52,"lp":1.45,"g":"u"},{"fc":0.4,"lp":1.95,"g":"u"},{"fc":0.33,"lp":1.38,"g":"u"},{"fc":0.43,"lp":1.42,"g":"u"},
{"fc":0.394,"lp":6.72,"g":"u"},{"fc":1.074,"lp":3.56,"g":"u"},{"fc":0.713,"lp":3.07,"g":"u"},{"fc":0.713,"lp":2.17,"g":"u"},{"fc":0.915,"lp":1.73,"g":"u"}
],
"p3": [
{"fc":-0.21,"lp":3.6,"g":"k"},{"fc":-0.14,"lp":3.6,"g":"k"},{"fc":-0.07,"lp":3.6,"g":"k"},
{"fc":-0.21,"lp":3.4,"g":"k"},{"fc":-0.14,"lp":3.4,"g":"k"},{"fc":-0.07,"lp":3.4,"g":"k"},{"fc":0.16,"lp":3.4,"g":"k"},
{"fc":-0.21,"lp":3.2,"g":"k"},{"fc":-0.14,"lp":3.2,"g":"k"},{"fc":-0.07,"lp":3.2,"g":"k"},{"fc":0.07,"lp":3.2,"g":"k"},{"fc":0.14,"lp":3.2,"g":"k"},{"fc":0.21,"lp":3.2,"g":"k"},
{"fc":-0.21,"lp":3.0,"g":"k"},{"fc":-0.14,"lp":3.0,"g":"k"},{"fc":-0.07,"lp":3.0,"g":"k"},{"fc":0.07,"lp":3.0,"g":"k"},{"fc":0.14,"lp":3.0,"g":"k"},{"fc":0.21,"lp":3.0,"g":"k"},
{"fc":-0.21,"lp":2.8,"g":"k"},{"fc":-0.14,"lp":2.8,"g":"k"},{"fc":-0.07,"lp":2.8,"g":"k"},{"fc":0.07,"lp":2.8,"g":"k"},{"fc":0.14,"lp":2.8,"g":"k"},{"fc":0.21,"lp":2.8,"g":"k"},
{"fc":-0.21,"lp":2.6,"g":"k"},{"fc":-0.14,"lp":2.6,"g":"k"},{"fc":-0.07,"lp":2.6,"g":"k"},{"fc":0.07,"lp":2.6,"g":"k"},{"fc":0.14,"lp":2.6,"g":"k"},{"fc":0.21,"lp":2.6,"g":"k"},
{"fc":-0.21,"lp":2.4,"g":"k"},{"fc":-0.14,"lp":2.4,"g":"k"},{"fc":-0.07,"lp":2.4,"g":"k"},{"fc":0.07,"lp":2.4,"g":"k"},{"fc":0.14,"lp":2.4,"g":"k"},{"fc":0.21,"lp":2.4,"g":"k"},
{"fc":-0.21,"lp":2.2,"g":"k"},{"fc":-0.14,"lp":2.2,"g":"k"},{"fc":-0.07,"lp":2.2,"g":"k"},{"fc":0.07,"lp":2.2,"g":"k"},{"fc":0.14,"lp":2.2,"g":"k"},{"fc":0.21,"lp":2.2,"g":"k"},
{"fc":-0.21,"lp":2.0,"g":"k"},{"fc":-0.14,"lp":2.0,"g":"k"},{"fc":-0.07,"lp":2.0,"g":"k"},{"fc":0.07,"lp":2.0,"g":"k"},{"fc":0.14,"lp":2.0,"g":"k"},{"fc":0.21,"lp":2.0,"g":"k"},
{"fc":-0.21,"lp":1.8,"g":"k"},{"fc":-0.14,"lp":1.8,"g":"k"},{"fc":-0.07,"lp":1.8,"g":"k"},{"fc":0.07,"lp":1.8,"g":"k"},{"fc":0.14,"lp":1.8,"g":"k"},{"fc":0.21,"lp":1.8,"g":"k"},
{"fc":-0.21,"lp":1.6,"g":"k"},{"fc":-0.14,"lp":1.6,"g":"k"},{"fc":-0.07,"lp":1.6,"g":"k"},{"fc":0.07,"lp":1.6,"g":"k"},{"fc":0.14,"lp":1.6,"g":"k"},{"fc":0.21,"lp":1.6,"g":"k"},
{"fc":-0.21,"lp":1.4,"g":"k"},{"fc":-0.14,"lp":1.4,"g":"k"},{"fc":-0.07,"lp":1.4,"g":"k"},{"fc":0.07,"lp":1.4,"g":"k"},{"fc":0.14,"lp":1.4,"g":"k"},{"fc":0.21,"lp":1.4,"g":"k"},
{"fc":-0.34,"lp":1.2,"g":"k"},{"fc":-0.26,"lp":1.2,"g":"k"},{"fc":-0.18,"lp":1.2,"g":"k"},{"fc":-0.1,"lp":1.2,"g":"k"},{"fc":0.1,"lp":1.2,"g":"k"},{"fc":0.18,"lp":1.2,"g":"k"},{"fc":0.26,"lp":1.2,"g":"k"},{"fc":0.34,"lp":1.2,"g":"k"},{"fc":0.42,"lp":1.2,"g":"k"},
{"fc":-0.36,"lp":1.0,"g":"k"},{"fc":-0.28,"lp":1.0,"g":"k"},{"fc":-0.2,"lp":1.0,"g":"k"},{"fc":-0.1,"lp":1.0,"g":"k"},{"fc":0.1,"lp":1.0,"g":"k"},{"fc":0.18,"lp":1.0,"g":"k"},{"fc":0.26,"lp":1.0,"g":"k"},{"fc":0.34,"lp":1.0,"g":"k"},{"fc":0.42,"lp":1.0,"g":"k"},{"fc":0.5,"lp":1.0,"g":"k"},
{"fc":-0.3,"lp":0.8,"g":"k"},{"fc":-0.22,"lp":0.8,"g":"k"},{"fc":-0.14,"lp":0.8,"g":"k"},{"fc":-0.07,"lp":0.8,"g":"k"},{"fc":0.07,"lp":0.8,"g":"k"},{"fc":0.14,"lp":0.8,"g":"k"},{"fc":0.22,"lp":0.8,"g":"k"},{"fc":0.3,"lp":0.8,"g":"k"},{"fc":0.38,"lp":0.8,"g":"k"},
{"fc":-0.24,"lp":0.6,"g":"k"},{"fc":-0.16,"lp":0.6,"g":"k"},{"fc":-0.08,"lp":0.6,"g":"k"},{"fc":0.08,"lp":0.6,"g":"k"},{"fc":0.16,"lp":0.6,"g":"k"},{"fc":0.24,"lp":0.6,"g":"k"},{"fc":0.32,"lp":0.6,"g":"k"},
{"fc":-0.16,"lp":0.4,"g":"k"},{"fc":-0.08,"lp":0.4,"g":"k"},{"fc":0.06,"lp":0.4,"g":"k"},{"fc":0.14,"lp":0.4,"g":"k"},{"fc":0.22,"lp":0.4,"g":"k"},
{"fc":-0.1,"lp":0.2,"g":"k"},{"fc":-0.03,"lp":0.2,"g":"k"},{"fc":0.04,"lp":0.2,"g":"k"},{"fc":0.1,"lp":0.2,"g":"k"},{"fc":0,"lp":0.06,"g":"k"},
{"fc":-0.118,"lp":10.92,"g":"n"},{"fc":0.204,"lp":10.41,"g":"n"},{"fc":-0.107,"lp":9.65,"g":"n"},{"fc":-0.255,"lp":9.1,"g":"n"},{"fc":-0.198,"lp":9.0,"g":"n"},{"fc":-0.102,"lp":8.34,"g":"n"},{"fc":-0.027,"lp":8.25,"g":"n"},{"fc":-0.225,"lp":7.8,"g":"n"},{"fc":-0.198,"lp":7.66,"g":"n"},{"fc":-0.129,"lp":7.32,"g":"n"},{"fc":0.032,"lp":7.4,"g":"n"},{"fc":-0.225,"lp":7.04,"g":"n"},{"fc":-0.129,"lp":6.98,"g":"n"},{"fc":0.123,"lp":6.98,"g":"n"},{"fc":-0.107,"lp":6.81,"g":"n"},{"fc":-0.037,"lp":7.1,"g":"n"},{"fc":0.204,"lp":6.36,"g":"n"},{"fc":-0.225,"lp":6.08,"g":"n"},{"fc":-0.171,"lp":6.02,"g":"n"},{"fc":-0.064,"lp":5.96,"g":"n"},{"fc":0.15,"lp":5.94,"g":"n"},{"fc":0.177,"lp":5.79,"g":"n"},{"fc":-0.145,"lp":5.68,"g":"n"},{"fc":0.23,"lp":5.62,"g":"n"},{"fc":0.123,"lp":5.45,"g":"n"},{"fc":-0.252,"lp":5.17,"g":"n"},{"fc":-0.171,"lp":5.11,"g":"n"},{"fc":-0.091,"lp":5.17,"g":"n"},{"fc":0.07,"lp":5.11,"g":"n"},{"fc":0.15,"lp":5.06,"g":"n"},{"fc":0.23,"lp":4.94,"g":"n"},{"fc":-0.225,"lp":4.83,"g":"n"},{"fc":-0.145,"lp":4.72,"g":"n"},{"fc":-0.037,"lp":4.6,"g":"n"},{"fc":0.096,"lp":4.49,"g":"n"},{"fc":0.204,"lp":4.38,"g":"n"},{"fc":-0.198,"lp":4.26,"g":"n"},{"fc":-0.091,"lp":4.15,"g":"n"},{"fc":0.15,"lp":4.04,"g":"n"},{"fc":-0.252,"lp":3.92,"g":"n"},{"fc":0.043,"lp":3.81,"g":"n"},{"fc":0.204,"lp":3.7,"g":"n"},{"fc":-0.2,"lp":4.5,"g":"n"},{"fc":-0.1,"lp":4.3,"g":"n"},{"fc":0.05,"lp":4.2,"g":"n"},{"fc":0.2,"lp":3.9,"g":"n"},{"fc":-0.05,"lp":3.9,"g":"n"},{"fc":0.12,"lp":3.6,"g":"n"},{"fc":0.22,"lp":3.45,"g":"n"},{"fc":0.06,"lp":3.5,"g":"n"},{"fc":-0.15,"lp":5.4,"g":"n"},{"fc":0.1,"lp":5.5,"g":"n"},{"fc":-0.22,"lp":4.95,"g":"n"},{"fc":0.18,"lp":4.7,"g":"n"},{"fc":-0.05,"lp":4.9,"g":"n"},{"fc":0.0,"lp":5.3,"g":"n"},
{"fc":-0.707,"lp":1.15,"g":"n"},{"fc":-0.6,"lp":0.86,"g":"n"},{"fc":-0.493,"lp":0.63,"g":"n"},{"fc":-0.386,"lp":0.98,"g":"n"},{"fc":-0.546,"lp":0.52,"g":"n"},{"fc":-0.412,"lp":0.29,"g":"n"},{"fc":-0.332,"lp":0.8,"g":"n"},{"fc":-0.45,"lp":1.2,"g":"n"},{"fc":-0.55,"lp":1.05,"g":"n"},
{"fc":0.471,"lp":1.15,"g":"n"},{"fc":0.686,"lp":1.09,"g":"n"},{"fc":0.793,"lp":1.2,"g":"n"},{"fc":0.953,"lp":1.09,"g":"n"},{"fc":1.114,"lp":1.15,"g":"n"},{"fc":1.328,"lp":0.8,"g":"n"},{"fc":1.532,"lp":1.09,"g":"n"},{"fc":1.693,"lp":1.05,"g":"n"},{"fc":1.382,"lp":0.92,"g":"n"},{"fc":1.007,"lp":0.75,"g":"n"},{"fc":0.82,"lp":0.63,"g":"n"},{"fc":0.686,"lp":0.52,"g":"n"},{"fc":0.578,"lp":0.75,"g":"n"},{"fc":0.9,"lp":0.92,"g":"n"},{"fc":0.418,"lp":0.29,"g":"n"},{"fc":0.55,"lp":1.0,"g":"n"},{"fc":0.62,"lp":0.85,"g":"n"},{"fc":0.5,"lp":0.6,"g":"n"},
{"fc":-0.332,"lp":7.49,"g":"d"},{"fc":-0.359,"lp":4.72,"g":"d"},{"fc":-0.305,"lp":4.72,"g":"d"},{"fc":-0.386,"lp":4.49,"g":"d"},{"fc":-0.439,"lp":4.43,"g":"d"},{"fc":-0.321,"lp":4.4,"g":"d"},{"fc":-0.493,"lp":4.15,"g":"d"},{"fc":-0.386,"lp":4.15,"g":"d"},{"fc":-0.305,"lp":4.15,"g":"d"},{"fc":-0.546,"lp":3.92,"g":"d"},{"fc":-0.439,"lp":3.92,"g":"d"},{"fc":-0.332,"lp":3.92,"g":"d"},{"fc":-0.289,"lp":3.81,"g":"d"},{"fc":-0.493,"lp":3.7,"g":"d"},{"fc":-0.396,"lp":3.64,"g":"d"},{"fc":-0.321,"lp":3.58,"g":"d"},{"fc":-0.546,"lp":3.47,"g":"d"},{"fc":-0.466,"lp":3.41,"g":"d"},{"fc":-0.359,"lp":3.41,"g":"d"},{"fc":-0.289,"lp":3.36,"g":"d"},{"fc":-0.412,"lp":3.24,"g":"d"},{"fc":-0.305,"lp":3.22,"g":"d"},{"fc":-0.493,"lp":3.13,"g":"d"},{"fc":-0.386,"lp":3.07,"g":"d"},{"fc":-0.573,"lp":3.02,"g":"d"},{"fc":-0.332,"lp":2.96,"g":"d"},{"fc":-0.439,"lp":2.9,"g":"d"},{"fc":-0.546,"lp":2.85,"g":"d"},{"fc":-0.305,"lp":2.79,"g":"d"},{"fc":-0.412,"lp":2.73,"g":"d"},{"fc":-0.493,"lp":2.62,"g":"d"},{"fc":-0.359,"lp":2.56,"g":"d"},{"fc":-0.6,"lp":2.51,"g":"d"},{"fc":-0.45,"lp":2.45,"g":"d"},{"fc":-0.321,"lp":2.39,"g":"d"},{"fc":-0.546,"lp":2.34,"g":"d"},{"fc":-0.386,"lp":2.28,"g":"d"},{"fc":-0.279,"lp":2.22,"g":"d"},{"fc":-0.627,"lp":2.22,"g":"d"},{"fc":-0.493,"lp":2.17,"g":"d"},{"fc":-0.396,"lp":2.11,"g":"d"},{"fc":-0.305,"lp":2.05,"g":"d"},{"fc":-0.707,"lp":2.0,"g":"d"},{"fc":-0.573,"lp":2.0,"g":"d"},{"fc":-0.439,"lp":1.94,"g":"d"},{"fc":-0.332,"lp":1.88,"g":"d"},{"fc":-0.761,"lp":1.83,"g":"d"},{"fc":-0.627,"lp":1.83,"g":"d"},{"fc":-0.52,"lp":1.77,"g":"d"},{"fc":-0.386,"lp":1.71,"g":"d"},{"fc":-0.279,"lp":1.71,"g":"d"},{"fc":-0.868,"lp":1.71,"g":"d"},{"fc":-0.68,"lp":1.71,"g":"d"},{"fc":-0.787,"lp":1.6,"g":"d"},{"fc":-0.573,"lp":1.6,"g":"d"},{"fc":-0.466,"lp":1.54,"g":"d"},{"fc":-0.359,"lp":1.49,"g":"d"},{"fc":-0.279,"lp":1.43,"g":"d"},{"fc":-1.028,"lp":1.41,"g":"d"},{"fc":-0.932,"lp":1.34,"g":"d"},{"fc":-0.707,"lp":1.54,"g":"d"},{"fc":-0.6,"lp":1.43,"g":"d"},{"fc":-0.493,"lp":1.37,"g":"d"},{"fc":-0.386,"lp":1.34,"g":"d"},{"fc":-0.305,"lp":1.32,"g":"d"},{"fc":-0.814,"lp":1.37,"g":"d"},{"fc":-0.761,"lp":3.13,"g":"d"},{"fc":-0.921,"lp":2.34,"g":"d"},{"fc":-0.868,"lp":2.0,"g":"d"},{"fc":-0.814,"lp":1.66,"g":"d"},{"fc":-0.33,"lp":1.6,"g":"d"},{"fc":-0.37,"lp":1.8,"g":"d"},{"fc":-0.31,"lp":2.0,"g":"d"},{"fc":-0.35,"lp":2.2,"g":"d"},{"fc":-0.3,"lp":2.5,"g":"d"},{"fc":-0.42,"lp":1.65,"g":"d"},{"fc":-0.32,"lp":3.0,"g":"d"},{"fc":-0.36,"lp":2.6,"g":"d"},
{"fc":-0.637,"lp":8.66,"g":"d"},{"fc":-0.653,"lp":5.2,"g":"d"},{"fc":-0.932,"lp":3.45,"g":"d"},{"fc":-0.868,"lp":3.45,"g":"d"},{"fc":-0.986,"lp":3.33,"g":"d"},{"fc":-1.0,"lp":2.76,"g":"d"},
{"fc":0.28,"lp":4.89,"g":"u"},{"fc":0.311,"lp":4.6,"g":"u"},{"fc":0.364,"lp":4.55,"g":"u"},{"fc":0.284,"lp":4.38,"g":"u"},{"fc":0.364,"lp":4.26,"g":"u"},{"fc":0.311,"lp":4.04,"g":"u"},{"fc":0.284,"lp":3.81,"g":"u"},{"fc":0.364,"lp":3.58,"g":"u"},{"fc":0.471,"lp":3.53,"g":"u"},{"fc":0.3,"lp":3.36,"g":"u"},{"fc":0.407,"lp":3.27,"g":"u"},{"fc":0.284,"lp":3.13,"g":"u"},{"fc":0.364,"lp":3.07,"g":"u"},{"fc":0.498,"lp":3.15,"g":"u"},{"fc":0.311,"lp":2.9,"g":"u"},{"fc":0.418,"lp":2.79,"g":"u"},{"fc":0.3,"lp":2.62,"g":"u"},{"fc":0.391,"lp":2.56,"g":"u"},{"fc":0.482,"lp":2.51,"g":"u"},{"fc":0.632,"lp":2.22,"g":"u"},{"fc":0.284,"lp":2.39,"g":"u"},{"fc":0.364,"lp":2.34,"g":"u"},{"fc":0.445,"lp":2.28,"g":"u"},{"fc":0.311,"lp":2.17,"g":"u"},{"fc":0.391,"lp":2.11,"g":"u"},{"fc":0.471,"lp":2.05,"g":"u"},{"fc":0.284,"lp":2.0,"g":"u"},{"fc":0.364,"lp":1.94,"g":"u"},{"fc":0.445,"lp":1.88,"g":"u"},{"fc":0.525,"lp":1.83,"g":"u"},{"fc":0.686,"lp":1.88,"g":"u"},{"fc":0.284,"lp":1.77,"g":"u"},{"fc":0.364,"lp":1.71,"g":"u"},{"fc":0.445,"lp":1.66,"g":"u"},{"fc":0.552,"lp":1.63,"g":"u"},{"fc":0.686,"lp":1.6,"g":"u"},{"fc":0.82,"lp":1.63,"g":"u"},{"fc":0.284,"lp":1.6,"g":"u"},{"fc":0.364,"lp":1.54,"g":"u"},{"fc":0.471,"lp":1.49,"g":"u"},{"fc":0.578,"lp":1.45,"g":"u"},{"fc":0.739,"lp":1.43,"g":"u"},{"fc":0.311,"lp":1.37,"g":"u"},{"fc":0.407,"lp":1.34,"g":"u"},{"fc":0.498,"lp":1.32,"g":"u"},{"fc":0.632,"lp":1.32,"g":"u"},{"fc":0.846,"lp":1.32,"g":"u"},{"fc":0.686,"lp":1.37,"g":"u"},{"fc":0.364,"lp":2.45,"g":"u"},{"fc":0.33,"lp":1.85,"g":"u"},{"fc":0.3,"lp":2.25,"g":"u"},{"fc":0.4,"lp":1.62,"g":"u"},{"fc":0.33,"lp":1.45,"g":"u"},{"fc":0.42,"lp":2.0,"g":"u"},{"fc":0.3,"lp":1.5,"g":"u"},{"fc":0.36,"lp":1.38,"g":"u"},{"fc":0.52,"lp":1.4,"g":"u"},
{"fc":0.514,"lp":6.45,"g":"u"},{"fc":0.46,"lp":5.28,"g":"u"},{"fc":0.712,"lp":4.58,"g":"u"},{"fc":0.9,"lp":2.96,"g":"u"},{"fc":1.103,"lp":2.53,"g":"u"},{"fc":0.782,"lp":2.24,"g":"u"},{"fc":1.034,"lp":1.32,"g":"u"}
],
"a1": [{"fc":-0.9,"lp":8.39,"id":"Q5XFW8"},{"fc":-1.93,"lp":4.44,"id":"A0A0G2JZQ9"},{"fc":-1.43,"lp":2.88,"id":"A0A0G2JST3"},{"fc":-1.83,"lp":2.11,"id":"D3ZUA0"},{"fc":-1.74,"lp":1.57,"id":"Q6P6Q2"},{"fc":1.2,"lp":6.34,"id":"A0A0G2JSV6"},{"fc":1.46,"lp":4.37,"id":"Q8R5H8"},{"fc":1.86,"lp":3.17,"id":"A0A0G2JSW3"},{"fc":2.12,"lp":2.29,"id":"Q63581"},{"fc":1.37,"lp":1.57,"id":"P11517"}],
"l1": [{"fc":-0.739,"lp":8.19,"fc2":-0.566,"lp2":7.88},{"fc":-1.909,"lp":4.11,"fc2":-1.909,"lp2":3.77},{"fc":-1.181,"lp":2.67,"fc2":-1.181,"lp2":2.15},{"fc":-1.386,"lp":2.03,"fc2":-0.955,"lp2":1.88},{"fc":-1.278,"lp":1.56,"fc2":-1.127,"lp2":1.56},{"fc":0.728,"lp":6.08,"fc2":0.728,"lp2":5.62},{"fc":0.782,"lp":4.23,"fc2":0.998,"lp2":4.27},{"fc":0.944,"lp":3.15,"fc2":1.106,"lp2":3.15},{"fc":1.559,"lp":2.01,"fc2":1.731,"lp2":2.18},{"fc":1.025,"lp":2.08,"fc2":1.025,"lp2":1.74}],
"a2": [{"fc":-0.91,"lp":8.74,"id":"Q6AY80"},{"fc":1.085,"lp":6.73,"id":"D4A1R8"},{"fc":1.154,"lp":4.24,"id":"P04692"},{"fc":-2.13,"lp":3.66,"id":"A0A0G2JZQ9"},{"fc":-1.0,"lp":4.04,"id":"Q642A4"},{"fc":1.66,"lp":3.1,"id":"A0A0G2K5F1"},{"fc":-1.57,"lp":2.36,"id":"D3ZJF8"},{"fc":1.676,"lp":2.3,"id":"A0A0G2JT63"},{"fc":-1.9,"lp":1.63,"id":"D3ZAW4"},{"fc":1.527,"lp":1.58,"id":"Q5FVG5"}],
"l2": [{"fc":-0.521,"lp":8.54,"fc2":-0.479,"lp2":8.23},{"fc":0.42,"lp":6.72,"fc2":0.649,"lp2":6.72},{"fc":1.074,"lp":4.04,"fc2":1.074,"lp2":3.61},{"fc":-1.585,"lp":3.45,"fc2":-1.585,"lp2":3.17},{"fc":-0.856,"lp":3.83,"fc2":-0.856,"lp2":3.24},{"fc":0.739,"lp":3.07,"fc2":0.952,"lp2":3.07},{"fc":-1.16,"lp":2.13,"fc2":-1.048,"lp2":1.93},{"fc":0.739,"lp":2.18,"fc2":0.979,"lp2":2.36},{"fc":-1.41,"lp":1.69,"fc2":-1.25,"lp2":1.69},{"fc":0.941,"lp":1.71,"fc2":1.09,"lp2":1.6}],
"a3": [{"fc":-1.307,"lp":9.14,"id":"Q5XFW8"},{"fc":0.723,"lp":7.02,"id":"Q792H5"},{"fc":-1.055,"lp":5.74,"id":"P19527"},{"fc":1.007,"lp":5.2,"id":"Q6AY96"},{"fc":-1.216,"lp":4.09,"id":"Q8R2H1"},{"fc":-2.009,"lp":3.21,"id":"A0A0G2K7X2"},{"fc":-1.966,"lp":2.22,"id":"A0A0H2UHP1"},{"fc":1.141,"lp":3.61,"id":"D3ZVD8"},{"fc":1.768,"lp":2.81,"id":"G3V6G7"},{"fc":1.462,"lp":1.77,"id":"D3ZGE6"}],
"l3": [{"fc":-0.841,"lp":8.93,"fc2":-0.648,"lp2":8.68},{"fc":0.514,"lp":6.81,"fc2":0.514,"lp2":6.51},{"fc":-0.771,"lp":5.51,"fc2":-0.664,"lp2":5.23},{"fc":0.712,"lp":4.94,"fc2":0.712,"lp2":4.63},{"fc":-0.932,"lp":3.87,"fc2":-0.932,"lp2":3.49},{"fc":-1.243,"lp":3.24,"fc2":-1.0,"lp2":3.33},{"fc":-1.189,"lp":2.41,"fc2":-1.0,"lp2":2.73},{"fc":0.9,"lp":3.36,"fc2":0.9,"lp2":3.02},{"fc":1.125,"lp":2.54,"fc2":1.318,"lp2":2.77},{"fc":0.803,"lp":2.22,"fc2":1.018,"lp2":1.94}]
},
"resolve": {"scale": {"x": "independent", "y": "independent"}},
"layer": [
{
"layer": [
{"data": {"name": "band"}, "mark": {"type": "rect", "fill": "#f6f6f6"}, "encoding": {"x": {"field": "x", "type": "quantitative", "scale": {"domain": [0,1355], "range": [0,1355]}, "axis": null}, "x2": {"field": "x2"}, "y": {"field": "y", "type": "quantitative", "scale": {"domain": [0,1597], "range": [0,1597]}, "axis": null}, "y2": {"field": "y2"}}},
{"data": {"name": "frame"}, "mark": {"type": "rule", "color": "#555555", "strokeWidth": 1.5}, "encoding": {"x": {"field": "x", "type": "quantitative", "scale": {"domain": [0,1355], "range": [0,1355]}, "axis": null}, "x2": {"field": "x2"}, "y": {"field": "y", "type": "quantitative", "scale": {"domain": [0,1597], "range": [0,1597]}, "axis": null}, "y2": {"field": "y2"}}},
{"data": {"name": "gbox"}, "mark": {"type": "rect", "stroke": "#3c3c3c", "strokeWidth": 1}, "encoding": {"x": {"field": "x", "type": "quantitative", "scale": {"domain": [0,1355], "range": [0,1355]}, "axis": null}, "x2": {"field": "x2"}, "y": {"field": "y", "type": "quantitative", "scale": {"domain": [0,1597], "range": [0,1597]}, "axis": null}, "y2": {"field": "y2"}, "fill": {"field": "g", "type": "nominal", "scale": {"domain": ["Cont","Dep-Sus","Anx-Sus","Insus"], "range": ["#f8cb8b","#7fccf2","#f29b9f","#8bc99b"]}, "legend": null}}},
{"data": {"name": "tbox"}, "mark": {"type": "rect", "fill": "#ffffff", "stroke": "#80cec7", "strokeWidth": 4}, "encoding": {"x": {"field": "x", "type": "quantitative", "scale": {"domain": [0,1355], "range": [0,1355]}, "axis": null}, "x2": {"field": "x2"}, "y": {"field": "y", "type": "quantitative", "scale": {"domain": [0,1597], "range": [0,1597]}, "axis": null}, "y2": {"field": "y2"}}},
{"data": {"name": "patch"}, "mark": {"type": "rect", "fill": "#f8f8f8"}, "encoding": {"x": {"field": "x", "type": "quantitative", "scale": {"domain": [0,1355], "range": [0,1355]}, "axis": null}, "x2": {"field": "x2"}, "y": {"field": "y", "type": "quantitative", "scale": {"domain": [0,1597], "range": [0,1597]}, "axis": null}, "y2": {"field": "y2"}}},
{"data": {"name": "arrows"}, "mark": {"type": "point", "shape": "M-0.235,-1L0.235,-1L0.235,0.12L0.47,0.12L0,1L-0.47,0.12L-0.235,0.12Z", "size": 1156, "filled": true, "fill": "#ffffff", "stroke": "#444444", "strokeWidth": 1, "opacity": 1}, "encoding": {"x": {"field": "x", "type": "quantitative", "scale": {"domain": [0,1355], "range": [0,1355]}, "axis": null}, "y": {"field": "y", "type": "quantitative", "scale": {"domain": [0,1597], "range": [0,1597]}, "axis": null}}},
{"data": {"name": "ftext"}, "mark": {"type": "text", "fontSize": 29.5, "fontWeight": "bold", "color": "#151515", "align": "center", "baseline": "alphabetic"}, "encoding": {"x": {"field": "x", "type": "quantitative", "scale": {"domain": [0,1355], "range": [0,1355]}, "axis": null}, "y": {"field": "y", "type": "quantitative", "scale": {"domain": [0,1597], "range": [0,1597]}, "axis": null}, "text": {"field": "t"}}},
{"data": {"name": "letters"}, "mark": {"type": "text", "fontSize": 18, "fontWeight": "bold", "color": "#111111", "align": "left", "baseline": "alphabetic"}, "encoding": {"x": {"field": "x", "type": "quantitative", "scale": {"domain": [0,1355], "range": [0,1355]}, "axis": null}, "y": {"field": "y", "type": "quantitative", "scale": {"domain": [0,1597], "range": [0,1597]}, "axis": null}, "text": {"field": "t"}}},
{"data": {"name": "ptitle"}, "mark": {"type": "text", "fontSize": 28, "fontWeight": "bold", "color": "#12122a", "align": "center", "baseline": "alphabetic"}, "encoding": {"x": {"field": "x", "type": "quantitative", "scale": {"domain": [0,1355], "range": [0,1355]}, "axis": null}, "y": {"field": "y", "type": "quantitative", "scale": {"domain": [0,1597], "range": [0,1597]}, "axis": null}, "text": {"field": "t"}}},
{"data": {"name": "uline"}, "mark": {"type": "rule", "color": "#222222", "strokeWidth": 1.6}, "encoding": {"x": {"field": "x", "type": "quantitative", "scale": {"domain": [0,1355], "range": [0,1355]}, "axis": null}, "x2": {"field": "x2"}, "y": {"field": "y", "type": "quantitative", "scale": {"domain": [0,1597], "range": [0,1597]}, "axis": null}, "y2": {"field": "y2"}}},
{"data": {"name": "ndown"}, "mark": {"type": "text", "fontSize": 28, "fontWeight": "bold", "color": "#3b8e1f", "align": "center", "baseline": "alphabetic"}, "encoding": {"x": {"field": "x", "type": "quantitative", "scale": {"domain": [0,1355], "range": [0,1355]}, "axis": null}, "y": {"field": "y", "type": "quantitative", "scale": {"domain": [0,1597], "range": [0,1597]}, "axis": null}, "text": {"field": "t"}}},
{"data": {"name": "nup"}, "mark": {"type": "text", "fontSize": 28, "fontWeight": "bold", "color": "#d424d8", "align": "center", "baseline": "alphabetic"}, "encoding": {"x": {"field": "x", "type": "quantitative", "scale": {"domain": [0,1355], "range": [0,1355]}, "axis": null}, "y": {"field": "y", "type": "quantitative", "scale": {"domain": [0,1597], "range": [0,1597]}, "axis": null}, "text": {"field": "t"}}},
{"data": {"name": "ytitle"}, "mark": {"type": "text", "fontSize": 26, "fontWeight": "bold", "color": "#151515", "align": "center", "baseline": "middle", "angle": 270}, "encoding": {"x": {"field": "x", "type": "quantitative", "scale": {"domain": [0,1355], "range": [0,1355]}, "axis": null}, "y": {"field": "y", "type": "quantitative", "scale": {"domain": [0,1597], "range": [0,1597]}, "axis": null}, "text": {"field": "t"}}},
{"data": {"name": "xtitle"}, "mark": {"type": "text", "fontSize": 30, "fontWeight": "bold", "color": "#151515", "align": "center", "baseline": "alphabetic"}, "encoding": {"x": {"field": "x", "type": "quantitative", "scale": {"domain": [0,1355], "range": [0,1355]}, "axis": null}, "y": {"field": "y", "type": "quantitative", "scale": {"domain": [0,1597], "range": [0,1597]}, "axis": null}, "text": {"field": "t"}}},
{"data": {"name": "capR"}, "mark": {"type": "text", "fontSize": 18, "color": "#333333", "align": "left", "baseline": "alphabetic"}, "encoding": {"x": {"field": "x", "type": "quantitative", "scale": {"domain": [0,1355], "range": [0,1355]}, "axis": null}, "y": {"field": "y", "type": "quantitative", "scale": {"domain": [0,1597], "range": [0,1597]}, "axis": null}, "text": {"field": "t"}}},
{"data": {"name": "capB"}, "mark": {"type": "text", "fontSize": 18, "fontWeight": "bold", "color": "#333333", "align": "left", "baseline": "alphabetic"}, "encoding": {"x": {"field": "x", "type": "quantitative", "scale": {"domain": [0,1355], "range": [0,1355]}, "axis": null}, "y": {"field": "y", "type": "quantitative", "scale": {"domain": [0,1597], "range": [0,1597]}, "axis": null}, "text": {"field": "t"}}},
{"data": {"name": "capI"}, "mark": {"type": "text", "fontSize": 18, "fontStyle": "italic", "color": "#333333", "align": "left", "baseline": "alphabetic"}, "encoding": {"x": {"field": "x", "type": "quantitative", "scale": {"domain": [0,1355], "range": [0,1355]}, "axis": null}, "y": {"field": "y", "type": "quantitative", "scale": {"domain": [0,1597], "range": [0,1597]}, "axis": null}, "text": {"field": "t"}}}
]
},
{
"layer": [
{"data": {"values": [{}]}, "mark": {"type": "rect", "fill": "#ffffff"}, "encoding": {"x": {"datum": -3, "type": "quantitative", "scale": {"domain": [-3,3], "range": [106,477]}, "axis": null}, "x2": {"datum": 3}, "y": {"datum": 0, "type": "quantitative", "scale": {"domain": [0,12], "range": [1347,1000]}, "axis": null}, "y2": {"datum": 12}}},
{"data": {"name": "p1"}, "transform": [{"filter": "datum.g == 'k'"}], "mark": {"type": "circle", "size": 46, "color": "#a4a4a8", "opacity": 1}, "encoding": {"x": {"field": "fc", "type": "quantitative", "scale": {"domain": [-3,3], "range": [106,477]}, "axis": null}, "y": {"field": "lp", "type": "quantitative", "scale": {"domain": [0,12], "range": [1347,1000]}, "axis": null}}},
{"data": {"name": "p1"}, "transform": [{"filter": "datum.g != 'k'"}], "mark": {"type": "circle", "size": 13, "opacity": 1}, "encoding": {"x": {"field": "fc", "type": "quantitative", "scale": {"domain": [-3,3], "range": [106,477]}, "axis": null}, "y": {"field": "lp", "type": "quantitative", "scale": {"domain": [0,12], "range": [1347,1000]}, "axis": null}, "color": {"field": "g", "type": "nominal", "scale": {"domain": ["n","d","u"], "range": ["#a4a4a8","#1d7f1d","#a822e6"]}, "legend": null}}},
{"data": {"values": [{"fc": -0.263}, {"fc": 0.263}]}, "mark": {"type": "rule", "color": "#f26b6b", "strokeDash": [4,3], "strokeWidth": 1.2}, "encoding": {"x": {"field": "fc", "type": "quantitative", "scale": {"domain": [-3,3], "range": [106,477]}, "axis": null}, "y": {"datum": 0, "type": "quantitative", "scale": {"domain": [0,12], "range": [1347,1000]}, "axis": null}, "y2": {"datum": 12}}},
{"data": {"values": [{"lp": 1.301}]}, "mark": {"type": "rule", "color": "#f26b6b", "strokeDash": [4,3], "strokeWidth": 1.2}, "encoding": {"x": {"datum": -3, "type": "quantitative", "scale": {"domain": [-3,3], "range": [106,477]}, "axis": null}, "x2": {"datum": 3}, "y": {"field": "lp", "type": "quantitative", "scale": {"domain": [0,12], "range": [1347,1000]}, "axis": null}}},
{"data": {"values": [{}]}, "mark": {"type": "rect", "fill": "#ffffff", "fillOpacity": 0, "stroke": "#2b2b2b", "strokeWidth": 3}, "encoding": {"x": {"datum": -3, "type": "quantitative", "scale": {"domain": [-3,3], "range": [106,477]}, "axis": null}, "x2": {"datum": 3}, "y": {"datum": 0, "type": "quantitative", "scale": {"domain": [0,12], "range": [1347,1000]}, "axis": null}, "y2": {"datum": 12}}},
{"data": {"name": "tx"}, "mark": {"type": "rule", "color": "#2b2b2b", "strokeWidth": 2.5}, "encoding": {"x": {"field": "t", "type": "quantitative", "scale": {"domain": [-3,3], "range": [106,477]}, "axis": null}, "y": {"datum": 0, "type": "quantitative", "scale": {"domain": [0,12], "range": [1347,1000]}, "axis": null}, "y2": {"datum": -0.27}}},
{"data": {"name": "ty"}, "mark": {"type": "rule", "color": "#2b2b2b", "strokeWidth": 2.5}, "encoding": {"y": {"field": "t", "type": "quantitative", "scale": {"domain": [0,12], "range": [1347,1000]}, "axis": null}, "x": {"datum": -3, "type": "quantitative", "scale": {"domain": [-3,3], "range": [106,477]}, "axis": null}, "x2": {"datum": -3.13}}},
{"data": {"name": "tx"}, "mark": {"type": "text", "font": "Liberation Sans Narrow, Liberation Sans, sans-serif", "fontSize": 30, "fontWeight": "bold", "color": "#1a1a1a", "align": "center", "baseline": "alphabetic", "dy": 35}, "encoding": {"x": {"field": "t", "type": "quantitative", "scale": {"domain": [-3,3], "range": [106,477]}, "axis": null}, "y": {"datum": 0, "type": "quantitative", "scale": {"domain": [0,12], "range": [1347,1000]}, "axis": null}, "text": {"field": "s"}}},
{"data": {"name": "ty"}, "mark": {"type": "text", "font": "Liberation Sans Narrow, Liberation Sans, sans-serif", "fontSize": 28, "fontWeight": "bold", "color": "#1a1a1a", "align": "right", "baseline": "alphabetic", "dx": -12, "dy": 10}, "encoding": {"y": {"field": "t", "type": "quantitative", "scale": {"domain": [0,12], "range": [1347,1000]}, "axis": null}, "x": {"datum": -3, "type": "quantitative", "scale": {"domain": [-3,3], "range": [106,477]}, "axis": null}, "text": {"field": "s"}}},
{"data": {"name": "l1"}, "mark": {"type": "rule", "color": "#555555", "strokeWidth": 1}, "encoding": {"x": {"field": "fc", "type": "quantitative", "scale": {"domain": [-3,3], "range": [106,477]}, "axis": null}, "x2": {"field": "fc2"}, "y": {"field": "lp", "type": "quantitative", "scale": {"domain": [0,12], "range": [1347,1000]}, "axis": null}, "y2": {"field": "lp2"}}},
{"data": {"name": "a1"}, "mark": {"type": "text", "fontSize": 14, "fontWeight": "bold", "color": "#111111", "align": "center", "baseline": "middle"}, "encoding": {"x": {"field": "fc", "type": "quantitative", "scale": {"domain": [-3,3], "range": [106,477]}, "axis": null}, "y": {"field": "lp", "type": "quantitative", "scale": {"domain": [0,12], "range": [1347,1000]}, "axis": null}, "text": {"field": "id"}}}
]
},
{
"layer": [
{"data": {"values": [{}]}, "mark": {"type": "rect", "fill": "#ffffff"}, "encoding": {"x": {"datum": -3, "type": "quantitative", "scale": {"domain": [-3,3], "range": [524,900]}, "axis": null}, "x2": {"datum": 3}, "y": {"datum": 0, "type": "quantitative", "scale": {"domain": [0,12], "range": [1350,999]}, "axis": null}, "y2": {"datum": 12}}},
{"data": {"name": "p2"}, "transform": [{"filter": "datum.g == 'k'"}], "mark": {"type": "circle", "size": 46, "color": "#a4a4a8", "opacity": 1}, "encoding": {"x": {"field": "fc", "type": "quantitative", "scale": {"domain": [-3,3], "range": [524,900]}, "axis": null}, "y": {"field": "lp", "type": "quantitative", "scale": {"domain": [0,12], "range": [1350,999]}, "axis": null}}},
{"data": {"name": "p2"}, "transform": [{"filter": "datum.g != 'k'"}], "mark": {"type": "circle", "size": 13, "opacity": 1}, "encoding": {"x": {"field": "fc", "type": "quantitative", "scale": {"domain": [-3,3], "range": [524,900]}, "axis": null}, "y": {"field": "lp", "type": "quantitative", "scale": {"domain": [0,12], "range": [1350,999]}, "axis": null}, "color": {"field": "g", "type": "nominal", "scale": {"domain": ["n","d","u"], "range": ["#a4a4a8","#1d7f1d","#a822e6"]}, "legend": null}}},
{"data": {"values": [{"fc": -0.263}, {"fc": 0.263}]}, "mark": {"type": "rule", "color": "#f26b6b", "strokeDash": [4,3], "strokeWidth": 1.2}, "encoding": {"x": {"field": "fc", "type": "quantitative", "scale": {"domain": [-3,3], "range": [524,900]}, "axis": null}, "y": {"datum": 0, "type": "quantitative", "scale": {"domain": [0,12], "range": [1350,999]}, "axis": null}, "y2": {"datum": 12}}},
{"data": {"values": [{"lp": 1.301}]}, "mark": {"type": "rule", "color": "#f26b6b", "strokeDash": [4,3], "strokeWidth": 1.2}, "encoding": {"x": {"datum": -3, "type": "quantitative", "scale": {"domain": [-3,3], "range": [524,900]}, "axis": null}, "x2": {"datum": 3}, "y": {"field": "lp", "type": "quantitative", "scale": {"domain": [0,12], "range": [1350,999]}, "axis": null}}},
{"data": {"values": [{}]}, "mark": {"type": "rect", "fill": "#ffffff", "fillOpacity": 0, "stroke": "#2b2b2b", "strokeWidth": 3}, "encoding": {"x": {"datum": -3, "type": "quantitative", "scale": {"domain": [-3,3], "range": [524,900]}, "axis": null}, "x2": {"datum": 3}, "y": {"datum": 0, "type": "quantitative", "scale": {"domain": [0,12], "range": [1350,999]}, "axis": null}, "y2": {"datum": 12}}},
{"data": {"name": "tx"}, "mark": {"type": "rule", "color": "#2b2b2b", "strokeWidth": 2.5}, "encoding": {"x": {"field": "t", "type": "quantitative", "scale": {"domain": [-3,3], "range": [524,900]}, "axis": null}, "y": {"datum": 0, "type": "quantitative", "scale": {"domain": [0,12], "range": [1350,999]}, "axis": null}, "y2": {"datum": -0.27}}},
{"data": {"name": "ty"}, "mark": {"type": "rule", "color": "#2b2b2b", "strokeWidth": 2.5}, "encoding": {"y": {"field": "t", "type": "quantitative", "scale": {"domain": [0,12], "range": [1350,999]}, "axis": null}, "x": {"datum": -3, "type": "quantitative", "scale": {"domain": [-3,3], "range": [524,900]}, "axis": null}, "x2": {"datum": -3.13}}},
{"data": {"name": "tx"}, "mark": {"type": "text", "font": "Liberation Sans Narrow, Liberation Sans, sans-serif", "fontSize": 30, "fontWeight": "bold", "color": "#1a1a1a", "align": "center", "baseline": "alphabetic", "dy": 35}, "encoding": {"x": {"field": "t", "type": "quantitative", "scale": {"domain": [-3,3], "range": [524,900]}, "axis": null}, "y": {"datum": 0, "type": "quantitative", "scale": {"domain": [0,12], "range": [1350,999]}, "axis": null}, "text": {"field": "s"}}},
{"data": {"name": "l2"}, "mark": {"type": "rule", "color": "#555555", "strokeWidth": 1}, "encoding": {"x": {"field": "fc", "type": "quantitative", "scale": {"domain": [-3,3], "range": [524,900]}, "axis": null}, "x2": {"field": "fc2"}, "y": {"field": "lp", "type": "quantitative", "scale": {"domain": [0,12], "range": [1350,999]}, "axis": null}, "y2": {"field": "lp2"}}},
{"data": {"name": "a2"}, "mark": {"type": "text", "fontSize": 14, "fontWeight": "bold", "color": "#111111", "align": "center", "baseline": "middle"}, "encoding": {"x": {"field": "fc", "type": "quantitative", "scale": {"domain": [-3,3], "range": [524,900]}, "axis": null}, "y": {"field": "lp", "type": "quantitative", "scale": {"domain": [0,12], "range": [1350,999]}, "axis": null}, "text": {"field": "id"}}}
]
},
{
"layer": [
{"data": {"values": [{}]}, "mark": {"type": "rect", "fill": "#ffffff"}, "encoding": {"x": {"datum": -3, "type": "quantitative", "scale": {"domain": [-3,3], "range": [946,1320]}, "axis": null}, "x2": {"datum": 3}, "y": {"datum": 0, "type": "quantitative", "scale": {"domain": [0,12], "range": [1350,999]}, "axis": null}, "y2": {"datum": 12}}},
{"data": {"name": "p3"}, "transform": [{"filter": "datum.g == 'k'"}], "mark": {"type": "circle", "size": 46, "color": "#a4a4a8", "opacity": 1}, "encoding": {"x": {"field": "fc", "type": "quantitative", "scale": {"domain": [-3,3], "range": [946,1320]}, "axis": null}, "y": {"field": "lp", "type": "quantitative", "scale": {"domain": [0,12], "range": [1350,999]}, "axis": null}}},
{"data": {"name": "p3"}, "transform": [{"filter": "datum.g != 'k'"}], "mark": {"type": "circle", "size": 13, "opacity": 1}, "encoding": {"x": {"field": "fc", "type": "quantitative", "scale": {"domain": [-3,3], "range": [946,1320]}, "axis": null}, "y": {"field": "lp", "type": "quantitative", "scale": {"domain": [0,12], "range": [1350,999]}, "axis": null}, "color": {"field": "g", "type": "nominal", "scale": {"domain": ["n","d","u"], "range": ["#a4a4a8","#1d7f1d","#a822e6"]}, "legend": null}}},
{"data": {"values": [{"fc": -0.263}, {"fc": 0.263}]}, "mark": {"type": "rule", "color": "#f26b6b", "strokeDash": [4,3], "strokeWidth": 1.2}, "encoding": {"x": {"field": "fc", "type": "quantitative", "scale": {"domain": [-3,3], "range": [946,1320]}, "axis": null}, "y": {"datum": 0, "type": "quantitative", "scale": {"domain": [0,12], "range": [1350,999]}, "axis": null}, "y2": {"datum": 12}}},
{"data": {"values": [{"lp": 1.301}]}, "mark": {"type": "rule", "color": "#f26b6b", "strokeDash": [4,3], "strokeWidth": 1.2}, "encoding": {"x": {"datum": -3, "type": "quantitative", "scale": {"domain": [-3,3], "range": [946,1320]}, "axis": null}, "x2": {"datum": 3}, "y": {"field": "lp", "type": "quantitative", "scale": {"domain": [0,12], "range": [1350,999]}, "axis": null}}},
{"data": {"values": [{}]}, "mark": {"type": "rect", "fill": "#ffffff", "fillOpacity": 0, "stroke": "#2b2b2b", "strokeWidth": 3}, "encoding": {"x": {"datum": -3, "type": "quantitative", "scale": {"domain": [-3,3], "range": [946,1320]}, "axis": null}, "x2": {"datum": 3}, "y": {"datum": 0, "type": "quantitative", "scale": {"domain": [0,12], "range": [1350,999]}, "axis": null}, "y2": {"datum": 12}}},
{"data": {"name": "tx"}, "mark": {"type": "rule", "color": "#2b2b2b", "strokeWidth": 2.5}, "encoding": {"x": {"field": "t", "type": "quantitative", "scale": {"domain": [-3,3], "range": [946,1320]}, "axis": null}, "y": {"datum": 0, "type": "quantitative", "scale": {"domain": [0,12], "range": [1350,999]}, "axis": null}, "y2": {"datum": -0.27}}},
{"data": {"name": "ty"}, "mark": {"type": "rule", "color": "#2b2b2b", "strokeWidth": 2.5}, "encoding": {"y": {"field": "t", "type": "quantitative", "scale": {"domain": [0,12], "range": [1350,999]}, "axis": null}, "x": {"datum": -3, "type": "quantitative", "scale": {"domain": [-3,3], "range": [946,1320]}, "axis": null}, "x2": {"datum": -3.13}}},
{"data": {"name": "tx"}, "mark": {"type": "text", "font": "Liberation Sans Narrow, Liberation Sans, sans-serif", "fontSize": 30, "fontWeight": "bold", "color": "#1a1a1a", "align": "center", "baseline": "alphabetic", "dy": 35}, "encoding": {"x": {"field": "t", "type": "quantitative", "scale": {"domain": [-3,3], "range": [946,1320]}, "axis": null}, "y": {"datum": 0, "type": "quantitative", "scale": {"domain": [0,12], "range": [1350,999]}, "axis": null}, "text": {"field": "s"}}},
{"data": {"name": "l3"}, "mark": {"type": "rule", "color": "#555555", "strokeWidth": 1}, "encoding": {"x": {"field": "fc", "type": "quantitative", "scale": {"domain": [-3,3], "range": [946,1320]}, "axis": null}, "x2": {"field": "fc2"}, "y": {"field": "lp", "type": "quantitative", "scale": {"domain": [0,12], "range": [1350,999]}, "axis": null}, "y2": {"field": "lp2"}}},
{"data": {"name": "a3"}, "mark": {"type": "text", "fontSize": 14, "fontWeight": "bold", "color": "#111111", "align": "center", "baseline": "middle"}, "encoding": {"x": {"field": "fc", "type": "quantitative", "scale": {"domain": [-3,3], "range": [946,1320]}, "axis": null}, "y": {"field": "lp", "type": "quantitative", "scale": {"domain": [0,12], "range": [1350,999]}, "axis": null}, "text": {"field": "id"}}}
]
}
]
}
